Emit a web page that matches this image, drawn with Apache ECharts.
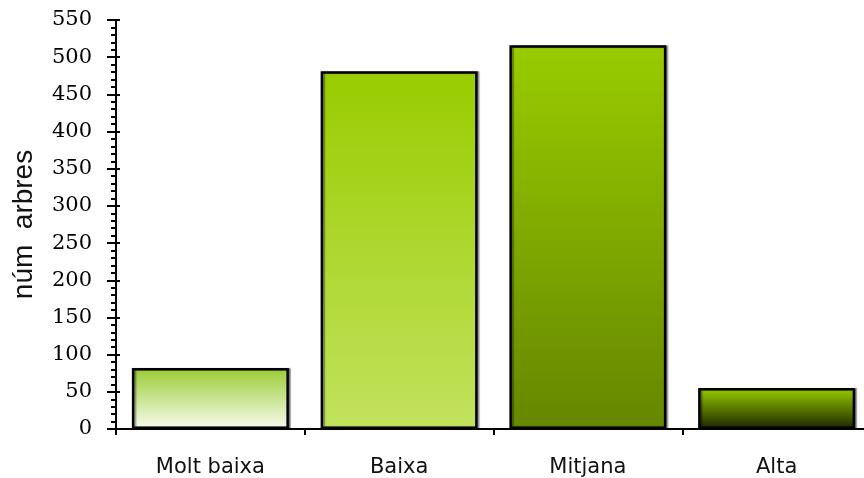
<!DOCTYPE html>
<html>
<head>
<meta charset="utf-8">
<style>html,body{margin:0;padding:0;background:#fff;overflow:hidden;}#c{width:871px;height:478px;}</style>
<script src="https://cdn.jsdelivr.net/npm/echarts@6/dist/echarts.min.js"></script>
</head>
<body>
<div id="c"></div>
<script>
var categories = ['Molt baixa', 'Baixa', 'Mitjana', 'Alta'];
var values = [82, 481, 516, 55];
var yTicks = { min: 0, max: 550, interval: 50 };
var yName = 'núm  arbres';
var gradTop = ['#99cc33', '#99cc00', '#99cc00', '#99cc00'];
var gradBottom = ['#f8fbf0', '#c2e25e', '#658600', '#1a2400'];

var chart = echarts.init(document.getElementById('c'), null, {renderer: 'canvas'});
var data = values.map(function (v, i) {
  return {
    value: v,
    itemStyle: {
      color: new echarts.graphic.LinearGradient(0, 0, 0, 1, [
        {offset: 0, color: gradTop[i]},
        {offset: 1, color: gradBottom[i]}
      ])
    }
  };
});
chart.setOption({
  animation: false,
  grid: {left: 116, right: 0, top: 20, bottom: 49, containLabel: false},
  xAxis: {
    type: 'category',
    data: categories,
    axisLine: {lineStyle: {color: '#000', width: 2}},
    axisTick: {show: true, length: 6, lineStyle: {color: '#000', width: 2}},
    axisLabel: {color: '#111', fontFamily: 'DejaVu Sans', fontSize: 21, margin: 28}
  },
  yAxis: [{
    type: 'value',
    min: yTicks.min, max: yTicks.max, interval: yTicks.interval,
    name: yName,
    nameLocation: 'middle',
    nameGap: 78,
    nameTextStyle: {color: '#111', fontFamily: 'Liberation Sans', fontSize: 28},
    axisLine: {show: true, lineStyle: {color: '#000', width: 2}},
    axisTick: {show: true, length: 9, lineStyle: {color: '#000', width: 2}},
    minorTick: {show: true, splitNumber: 5, length: 5, lineStyle: {color: '#000', width: 2}},
    splitLine: {show: false},
    axisLabel: {color: '#000', fontFamily: 'DejaVu Serif', fontSize: 21, margin: 24}
  }, {
    type: 'value',
    position: 'left',
    min: yTicks.min, max: yTicks.max, interval: yTicks.interval,
    axisLine: {show: false},
    axisTick: {show: true, inside: true, length: 4, lineStyle: {color: '#000', width: 2}},
    axisLabel: {show: false},
    splitLine: {show: false}
  }],
  series: [{
    type: 'bar',
    data: data,
    barWidth: 157,
    itemStyle: {
      borderColor: '#000',
      borderWidth: 2.5,
      shadowColor: 'rgba(0,0,0,0.35)',
      shadowOffsetX: 2,
      shadowOffsetY: 0,
      shadowBlur: 1
    }
  }]
});
</script>
</body>
</html>
